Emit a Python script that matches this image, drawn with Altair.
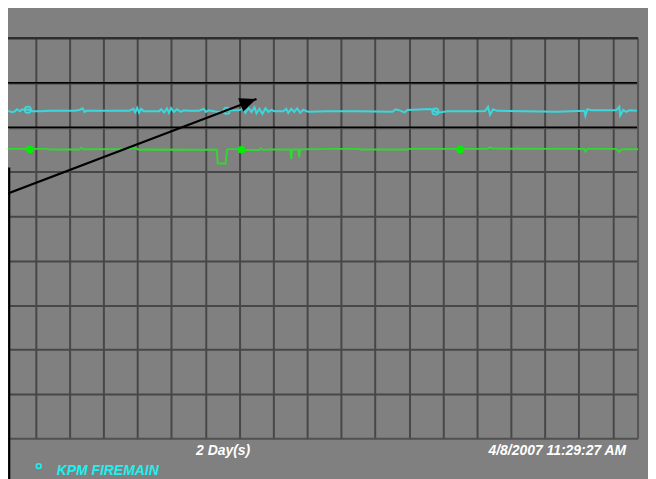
import altair as alt
import pandas as pd
import numpy as np

# ---- data (hours into the 2-day window, pressure in psi) ----
cyan_hours = [0.00, 0.30, 0.53, 0.68, 0.91, 1.06, 1.51, 1.89, 2.42, 3.18, 3.94, 5.07,
              5.45, 5.68, 5.83, 5.98, 6.21, 9.24, 9.54, 9.69, 9.84, 9.99, 10.15, 10.30,
              10.37, 11.51, 11.66, 11.89, 12.11, 12.26, 12.42, 12.64, 12.87, 13.17, 13.40,
              13.78, 14.54, 14.91, 15.07, 15.29, 15.90, 16.51, 16.66, 16.81, 17.57, 17.94,
              18.09, 18.32, 18.55, 18.78, 18.93, 19.15, 19.38, 19.61, 19.84, 20.06, 20.29,
              20.97, 21.20, 21.35, 21.58, 21.80, 22.03, 22.26, 22.49, 22.86, 24.38, 26.65,
              29.30, 29.53, 29.83, 30.21, 30.44, 32.18, 32.56, 32.71, 33.09, 33.46, 35.73,
              36.34, 36.57, 36.72, 36.95, 37.25, 41.79, 43.91, 43.99, 44.14, 44.44, 46.34,
              46.57, 46.64, 46.87, 47.10, 47.33, 48.00]
cyan_psi = [147.4, 146.8, 147.2, 148.1, 147.2, 148.0, 148.0, 147.2, 147.2, 147.4, 147.4, 147.4,
            147.8, 148.5, 146.9, 147.4, 147.4, 147.4, 148.3, 146.7, 148.7, 146.5, 148.3, 147.4,
            147.2, 147.2, 148.1, 146.7, 148.5, 146.5, 148.7, 146.9, 148.1, 146.9, 147.6,
            147.4, 147.4, 148.3, 146.9, 147.6, 147.0, 147.0, 147.4, 147.6, 147.6, 148.3,
            146.5, 148.7, 146.9, 149.0, 146.3, 148.3, 146.0, 148.5, 146.9, 147.8, 147.2,
            147.2, 148.3, 146.5, 148.3, 146.9, 148.5, 146.5, 147.8, 147.0, 147.2, 147.2,
            147.0, 148.1, 147.6, 146.7, 147.8, 148.2, 147.1, 146.7, 146.9, 147.2, 147.2,
            147.3, 149.2, 145.6, 148.1, 147.4, 147.0, 147.4, 145.2, 148.1, 147.7, 147.7,
            149.2, 145.3, 147.8, 146.9, 147.6, 147.4]

green_hours = [0.00, 2.95, 3.18, 5.45, 5.60, 5.75, 9.24, 9.39, 9.77, 9.99, 10.37, 14.91,
               15.90, 15.98, 16.58, 16.69, 16.81, 17.57, 17.94, 19.15, 19.23, 19.46, 19.84,
               21.50, 21.58, 21.65, 22.11, 22.18, 22.26, 24.38, 26.65, 26.90, 30.44, 30.60,
               36.49, 36.72, 36.95, 42.55, 43.91, 43.99, 44.14, 46.34, 46.57, 46.72, 48.00]
green_psi = [130.3, 130.3, 130.0, 130.0, 130.9, 130.1, 130.2, 130.6, 130.5, 129.9, 130.0, 129.9,
             130.0, 123.7, 123.7, 130.0, 130.2, 130.2, 129.8, 129.8, 130.6, 129.8, 130.0,
             130.0, 125.8, 130.0, 130.0, 126.5, 130.1, 130.3, 130.3, 130.0, 130.0, 130.3,
             130.3, 131.0, 130.4, 130.3, 130.3, 129.1, 130.3, 130.3, 128.9, 130.1, 130.1]

cyan_marker_hours = [1.51, 16.66, 32.56]
cyan_marker_psi = [147.9, 147.4, 147.1]
green_marker_hours = [1.67, 17.79, 34.45]
green_marker_psi = [130.0, 129.9, 130.0]

limit_psi = [160, 140]
arrow_hours = [0.0, 18.93]
arrow_psi = [110.3, 152.75]

series_name = "KPM FIREMAIN"
span_label = "2 Day(s)"
end_label = "4/8/2007 11:29:27 AM"

# ---- scales / axes ----
W, H = 634, 403
x_scale = alt.Scale(domain=[0, 48], nice=False, zero=False)
y_scale = alt.Scale(domain=[0, 180], nice=False, zero=False)
grid_x = [float(v) for v in np.round(2.1 + 2.587 * np.arange(18), 3)]
grid_y = [20, 40, 60, 80, 100, 120, 140, 160]
ax_common = dict(labels=False, ticks=False, domain=False, title=None,
                 grid=True, gridColor="#474747", gridWidth=2, gridOpacity=1)
x_axis = alt.Axis(values=grid_x, **ax_common)
y_axis = alt.Axis(values=grid_y, **ax_common)


def X(f):
    return alt.X(f, type="quantitative", scale=x_scale, axis=x_axis)


def Y(f):
    return alt.Y(f, type="quantitative", scale=y_scale, axis=y_axis)


cyan_df = pd.DataFrame({"h": cyan_hours, "p": cyan_psi})
green_df = pd.DataFrame({"h": green_hours, "p": green_psi})
cm_df = pd.DataFrame({"h": cyan_marker_hours, "p": cyan_marker_psi})
gm_df = pd.DataFrame({"h": green_marker_hours, "p": green_marker_psi})
lim_df = pd.DataFrame({"p": limit_psi})
arrow_df = pd.DataFrame({"h": arrow_hours, "p": arrow_psi})
tip_df = arrow_df.tail(1)

limits = alt.Chart(lim_df).mark_rule(color="#000000", strokeWidth=1.5).encode(y=Y("p"))

border_top = alt.Chart(pd.DataFrame({"p": [180]})).mark_rule(
    color="#2e2e2e", strokeWidth=2.5).encode(y=Y("p"))
border_bottom = alt.Chart(pd.DataFrame({"p": [0]})).mark_rule(
    color="#505050", strokeWidth=2).encode(y=Y("p"))
border_right = alt.Chart(pd.DataFrame({"h": [48]})).mark_rule(
    color="#555555", strokeWidth=2).encode(x=X("h"))

cyan_line = alt.Chart(cyan_df).mark_line(color="#3ad8dc", strokeWidth=2).encode(
    x=X("h"), y=Y("p"), order="h:Q")
green_line = alt.Chart(green_df).mark_line(color="#33d633", strokeWidth=1.9).encode(
    x=X("h"), y=Y("p"), order="h:Q")

cyan_marks = alt.Chart(cm_df).mark_point(
    shape="circle", filled=False, color="#3ad8dc", size=40, strokeWidth=1.8, opacity=1
).encode(x=X("h"), y=Y("p"))
green_marks = alt.Chart(gm_df).mark_point(
    shape="circle", filled=True, color="#00f000", size=60, opacity=1
).encode(x=X("h"), y=Y("p"))

arrow_line = alt.Chart(arrow_df).mark_line(color="#000000", strokeWidth=2.2).encode(
    x=X("h"), y=Y("p"), order="h:Q")
arrow_head = alt.Chart(tip_df).mark_point(
    shape="M0,0L-1,-0.42L-1,0.42Z", filled=True, color="#000000", size=1150,
    angle=339.2, opacity=1
).encode(x=X("h"), y=Y("p"))

box_edge = alt.Chart(pd.DataFrame({"k": [0]})).mark_rule(
    color="#000000", strokeWidth=2.2).encode(
    x=alt.value(1.2), y=alt.value(130), y2=alt.value(445))

font = "Liberation Sans"
span_text = alt.Chart(pd.DataFrame({"t": [span_label]})).mark_text(
    font=font, fontSize=14, fontWeight="bold", fontStyle="italic", color="#ffffff",
    align="center", baseline="alphabetic"
).encode(text="t:N", x=alt.value(216.5), y=alt.value(419))
end_text = alt.Chart(pd.DataFrame({"t": [end_label]})).mark_text(
    font=font, fontSize=14, fontWeight="bold", fontStyle="italic", color="#ffffff",
    align="right", baseline="alphabetic"
).encode(text="t:N", x=alt.value(622), y=alt.value(419))

legend_sym = alt.Chart(pd.DataFrame({"t": [series_name]})).mark_point(
    shape="circle", filled=False, color="#22eeee", size=24, strokeWidth=1.6, opacity=1
).encode(x=alt.value(30.9), y=alt.value(430.5))
legend_txt = alt.Chart(pd.DataFrame({"t": [series_name]})).mark_text(
    font=font, fontSize=14, fontWeight="bold", fontStyle="italic", color="#1ef0f0",
    align="left", baseline="alphabetic"
).encode(text="t:N", x=alt.value(49), y=alt.value(439))

chart = alt.layer(
    cyan_line, limits, border_bottom, border_right, border_top,
    green_line, cyan_marks, green_marks,
    arrow_line, arrow_head, box_edge,
    span_text, end_text, legend_sym, legend_txt
).properties(
    width=W, height=H,
    autosize=alt.AutoSizeParams(type="none"),
    padding={"left": 0, "top": 29, "right": 10, "bottom": 39},
    background="#808080",
).configure_view(stroke=None)

chart.save("out.html", embed_options={"renderer": "svg", "actions": False})
